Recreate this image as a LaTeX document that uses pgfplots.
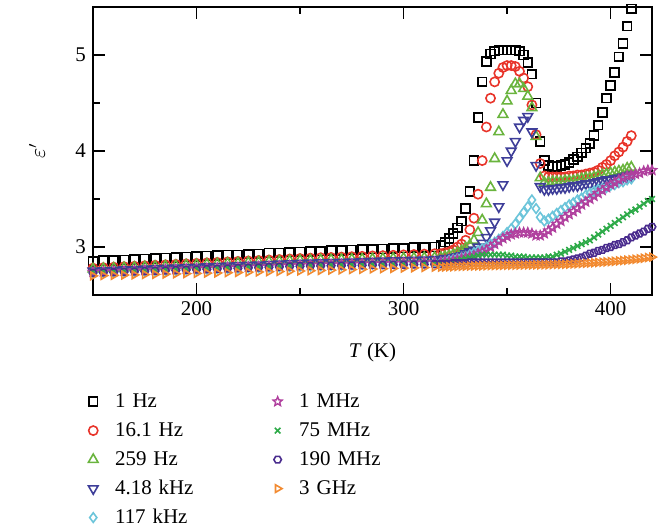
\documentclass[border=0pt]{standalone}
\usepackage{fontspec}
\setmainfont{Liberation Serif}
\usepackage{pgfplots}
\pgfplotsset{compat=1.18}
\usepackage{pgfplotstable}

\definecolor{cRed}{HTML}{E8342A}
\definecolor{cGreen}{HTML}{6AB43E}
\definecolor{cNavy}{HTML}{3E3E99}
\definecolor{cCyan}{HTML}{6CC5DA}
\definecolor{cMag}{HTML}{B0409E}
\definecolor{cGreenX}{HTML}{2DAA48}
\definecolor{cPurple}{HTML}{4A2C8E}
\definecolor{cOrange}{HTML}{F28A30}

% open five-pointed star and hexagon marks
\pgfdeclareplotmark{pstar}{%
  \pgfpathmoveto{\pgfpointpolar{90}{\pgfplotmarksize}}%
  \pgfpathlineto{\pgfpointpolar{126}{0.45\pgfplotmarksize}}%
  \pgfpathlineto{\pgfpointpolar{162}{\pgfplotmarksize}}%
  \pgfpathlineto{\pgfpointpolar{198}{0.45\pgfplotmarksize}}%
  \pgfpathlineto{\pgfpointpolar{234}{\pgfplotmarksize}}%
  \pgfpathlineto{\pgfpointpolar{270}{0.45\pgfplotmarksize}}%
  \pgfpathlineto{\pgfpointpolar{306}{\pgfplotmarksize}}%
  \pgfpathlineto{\pgfpointpolar{342}{0.45\pgfplotmarksize}}%
  \pgfpathlineto{\pgfpointpolar{18}{\pgfplotmarksize}}%
  \pgfpathlineto{\pgfpointpolar{54}{0.45\pgfplotmarksize}}%
  \pgfpathclose\pgfusepathqstroke}
\pgfdeclareplotmark{hexa}{%
  \pgfpathmoveto{\pgfpointpolar{0}{\pgfplotmarksize}}%
  \pgfpathlineto{\pgfpointpolar{60}{\pgfplotmarksize}}%
  \pgfpathlineto{\pgfpointpolar{120}{\pgfplotmarksize}}%
  \pgfpathlineto{\pgfpointpolar{180}{\pgfplotmarksize}}%
  \pgfpathlineto{\pgfpointpolar{240}{\pgfplotmarksize}}%
  \pgfpathlineto{\pgfpointpolar{300}{\pgfplotmarksize}}%
  \pgfpathclose\pgfusepathqstroke}

\pgfplotsset{
  sA/.style={only marks, color=black, mark=square, mark size=2.2bp, mark options={line width=0.85bp}},
  sB/.style={only marks, color=cRed, mark=o, mark size=2.3bp, mark options={line width=0.8bp}},
  sC/.style={only marks, color=cGreen, mark=triangle, mark size=2.8bp, mark options={line width=0.8bp}},
  sD/.style={only marks, color=cNavy, mark=triangle, mark size=2.8bp, mark options={line width=0.8bp, rotate=180}},
  sE/.style={only marks, color=cCyan, mark=diamond, mark size=2.4bp, mark options={line width=0.8bp}},
  sF/.style={only marks, color=cMag, mark=pstar, mark size=2.4bp, mark options={line width=0.7bp}},
  sG/.style={only marks, color=cGreenX, mark=x, mark size=2.0bp, mark options={line width=0.8bp}},
  sH/.style={only marks, color=cPurple, mark=hexa, mark size=1.9bp, mark options={line width=0.8bp}},
  sI/.style={only marks, color=cOrange, mark=triangle, mark size=2.2bp, mark options={line width=0.8bp, rotate=-90}},
}

% permittivity vs temperature, one column per frequency
\pgfplotstableread{
T   s1    s2    s3    s4    s5    s6    s7    s8    s9
150 2.850 2.780 2.770 2.750 2.730 2.740 2.740 2.730 2.700
155 2.857 2.785 2.775 2.754 2.734 2.744 2.744 2.734 2.703
160 2.858 2.790 2.779 2.758 2.737 2.747 2.747 2.737 2.705
165 2.866 2.795 2.784 2.762 2.741 2.751 2.751 2.741 2.708
170 2.869 2.800 2.788 2.766 2.744 2.754 2.754 2.744 2.710
175 2.877 2.805 2.793 2.770 2.748 2.758 2.758 2.748 2.713
180 2.879 2.810 2.797 2.774 2.751 2.761 2.761 2.751 2.715
185 2.887 2.815 2.802 2.778 2.755 2.765 2.765 2.755 2.718
190 2.889 2.820 2.806 2.782 2.758 2.768 2.768 2.758 2.720
195 2.896 2.825 2.811 2.786 2.762 2.772 2.772 2.762 2.723
200 2.900 2.830 2.815 2.790 2.765 2.775 2.775 2.765 2.725
205 2.907 2.835 2.820 2.794 2.769 2.779 2.779 2.769 2.728
210 2.909 2.840 2.824 2.798 2.772 2.782 2.782 2.772 2.730
215 2.917 2.845 2.829 2.802 2.776 2.786 2.786 2.776 2.733
220 2.919 2.850 2.833 2.806 2.779 2.789 2.789 2.779 2.735
225 2.926 2.855 2.838 2.810 2.783 2.793 2.793 2.783 2.738
230 2.929 2.860 2.842 2.814 2.786 2.796 2.796 2.786 2.740
235 2.937 2.865 2.847 2.818 2.790 2.800 2.800 2.790 2.743
240 2.939 2.870 2.851 2.822 2.793 2.803 2.803 2.793 2.745
245 2.946 2.875 2.856 2.826 2.797 2.807 2.807 2.797 2.748
250 2.949 2.880 2.860 2.830 2.800 2.810 2.810 2.800 2.750
255 2.955 2.884 2.862 2.833 2.803 2.812 2.812 2.802 2.753
260 2.957 2.888 2.865 2.836 2.806 2.815 2.813 2.803 2.756
265 2.962 2.891 2.867 2.839 2.809 2.817 2.815 2.805 2.759
270 2.964 2.895 2.869 2.842 2.812 2.819 2.816 2.806 2.762
275 2.970 2.899 2.872 2.845 2.815 2.822 2.818 2.808 2.765
280 2.972 2.903 2.874 2.848 2.818 2.824 2.819 2.809 2.768
285 2.978 2.907 2.876 2.851 2.821 2.826 2.821 2.811 2.771
290 2.979 2.910 2.879 2.854 2.824 2.828 2.822 2.812 2.774
295 2.985 2.914 2.881 2.857 2.827 2.831 2.824 2.814 2.777
300 2.987 2.918 2.883 2.860 2.830 2.833 2.825 2.815 2.780
305 2.993 2.922 2.885 2.863 2.833 2.835 2.827 2.817 2.783
310 2.995 2.926 2.888 2.866 2.836 2.838 2.828 2.818 2.786
315 3.000 2.930 2.890 2.870 2.840 2.840 2.830 2.820 2.790
318 3.02  2.93  2.89  2.87  2.84  2.84  2.83  2.82  2.790
320 3.05  2.94  2.90  2.88  2.85  2.85  2.84  2.82  2.792
322 3.09  2.95  2.91  2.88  2.86  2.85  2.84  2.82  2.794
324 3.14  2.97  2.92  2.89  2.87  2.86  2.85  2.83  2.795
326 3.20  3.00  2.94  2.90  2.88  2.87  2.86  2.83  2.797
328 3.27  3.03  2.96  2.91  2.89  2.88  2.87  2.83  2.798
330 3.40  3.07  2.99  2.93  2.90  2.89  2.88  2.83  2.800
332 3.58  3.18  3.02  2.95  2.92  2.90  2.89  2.84  2.801
334 3.90  3.30  3.07  2.97  2.94  2.91  2.90  2.84  2.802
336 4.35  3.55  3.15  3.00  2.96  2.93  2.91  2.84  2.803
338 4.72  3.90  3.28  3.04  2.98  2.95  2.92  2.84  2.804
340 4.93  4.25  3.45  3.10  3.00  2.97  2.92  2.84  2.805
342 5.01  4.55  3.62  3.17  3.03  3.00  2.92  2.84  2.806
344 5.04  4.72  3.92  3.26  3.05  3.03  2.92  2.84  2.807
346 5.05  4.81  4.20  3.42  3.08  3.06  2.92  2.84  2.808
348 5.05  4.87  4.38  3.65  3.11  3.09  2.92  2.84  2.809
350 5.05  4.89  4.52  3.90  3.15  3.11  2.91  2.84  2.810
352 5.05  4.89  4.63  4.00  3.19  3.13  2.91  2.84  2.811
354 5.05  4.88  4.70  4.10  3.24  3.14  2.90  2.84  2.811
356 5.04  4.83  4.70  4.25  3.30  3.15  2.90  2.84  2.812
358 5.00  4.76  4.65  4.32  3.36  3.15  2.90  2.84  2.812
360 4.92  4.67  4.57  4.36  3.42  3.15  2.89  2.84  2.813
362 4.80  4.48  4.45  4.20  3.49  3.14  2.89  2.84  2.813
364 4.50  4.17  4.15  3.85  3.40  3.12  2.89  2.84  2.814
366 4.10  3.87  3.72  3.63  3.31  3.12  2.89  2.84  2.814
368 3.90  3.74  3.67  3.60  3.27  3.14  2.89  2.84  2.815
370 3.85  3.73  3.67  3.60  3.29  3.17  2.90  2.84  2.816
372 3.84  3.73  3.68  3.61  3.32  3.20  2.90  2.84  2.817
374 3.84  3.73  3.68  3.61  3.35  3.24  2.92  2.84  2.818
376 3.85  3.73  3.68  3.62  3.38  3.27  2.93  2.85  2.819
378 3.86  3.73  3.69  3.62  3.41  3.31  2.95  2.85  2.820
380 3.88  3.74  3.69  3.63  3.44  3.34  2.97  2.86  2.822
382 3.91  3.74  3.69  3.64  3.46  3.37  2.99  2.87  2.824
384 3.94  3.75  3.70  3.64  3.49  3.40  3.01  2.88  2.826
386 3.98  3.75  3.71  3.65  3.51  3.44  3.03  2.89  2.828
388 4.03  3.76  3.72  3.66  3.54  3.47  3.05  2.91  2.830
390 4.08  3.77  3.72  3.66  3.56  3.50  3.07  2.93  2.833
392 4.16  3.78  3.73  3.67  3.58  3.53  3.10  2.94  2.836
394 4.27  3.80  3.74  3.68  3.60  3.56  3.13  2.96  2.839
396 4.40  3.83  3.75  3.69  3.61  3.59  3.16  2.97  2.842
398 4.55  3.86  3.76  3.70  3.62  3.62  3.19  2.99  2.845
400 4.68  3.90  3.77  3.70  3.64  3.65  3.22  3.00  2.848
402 4.82  3.95  3.78  3.71  3.65  3.67  3.25  3.02  2.851
404 4.98  3.99  3.79  3.72  3.67  3.70  3.28  3.03  2.855
406 5.12  4.04  3.80  3.73  3.68  3.72  3.31  3.05  2.859
408 5.30  4.10  3.82  3.74  3.70  3.74  3.34  3.07  2.863
410 5.48  4.16  3.83  3.75  3.71  3.75  3.37  3.10  2.867
412 5.62  nan   nan   nan   nan   3.76  3.39  3.12  2.872
414 nan   nan   nan   nan   nan   3.77  3.42  3.14  2.877
416 nan   nan   nan   nan   nan   3.79  3.45  3.16  2.883
418 nan   nan   nan   nan   nan   3.80  3.48  3.19  2.890
420 nan   nan   nan   nan   nan   3.80  3.50  3.21  2.895
}\epsdata

\begin{document}
\begin{tikzpicture}
\useasboundingbox (-46.5bp,-117bp) rectangle (283bp,147.5bp);
\begin{axis}[
    scale only axis,
    width=279.5bp, height=144bp,
    xmin=150, xmax=420,
    ymin=2.5, ymax=5.5,
    xtick={200,300,400},
    ytick={3,4,5},
    minor x tick num=1,
    minor y tick num=1,
    major tick length=6bp,
    minor tick length=3.5bp,
    axis line style={line width=1bp},
    every tick/.style={black, line width=0.9bp},
    tick label style={font=\fontsize{10.5}{12}\selectfont},
    label style={font=\fontsize{10.5}{12}\selectfont},
    /pgf/number format/assume math mode=true,
    xlabel={\textit{T} (K)},
    ylabel={$\varepsilon'$},
    xlabel style={at={(axis description cs:0.5,0)}, anchor=center, yshift=-28.5bp},
    ylabel style={at={(axis description cs:0,0.5)}, anchor=center, yshift=28bp},
    legend image code/.code={\draw[#1] plot coordinates {(0bp,2.7bp)};},
    legend style={
        draw=none, fill=none, legend columns=2,
        at={(axis description cs:0,0)}, anchor=north west,
        xshift=-2.3bp, yshift=-48bp,
        inner sep=0pt, outer sep=0pt,
        font=\fontsize{10.5}{12}\selectfont,
        nodes={inner sep=0pt, text height=8bp, text depth=2.5bp, anchor=base west, text width=68bp},
        row sep=4bp,
        % odd columns hold the marks, even columns the texts
        /tikz/every odd column/.append style={column sep=8.5bp},
        /tikz/every even column/.append style={column sep=11bp},
    },
]
\addplot[sA, forget plot] table[x=T, y=s1] {\epsdata};
\addplot[sB, forget plot] table[x=T, y=s2] {\epsdata};
\addplot[sC, forget plot] table[x=T, y=s3] {\epsdata};
\addplot[sD, forget plot] table[x=T, y=s4] {\epsdata};
\addplot[sE, forget plot] table[x=T, y=s5] {\epsdata};
\addplot[sF, forget plot] table[x=T, y=s6] {\epsdata};
\addplot[sG, forget plot] table[x=T, y=s7] {\epsdata};
\addplot[sH, forget plot] table[x=T, y=s8] {\epsdata};
\addplot[sI, forget plot] table[x=T, y=s9] {\epsdata};

% legend filled row by row so the columns read as in the figure
\addlegendimage{sA}\addlegendentry{1 Hz}
\addlegendimage{sF}\addlegendentry{1 MHz}
\addlegendimage{sB}\addlegendentry{16.1 Hz}
\addlegendimage{sG}\addlegendentry{75 MHz}
\addlegendimage{sC}\addlegendentry{259 Hz}
\addlegendimage{sH}\addlegendentry{190 MHz}
\addlegendimage{sD}\addlegendentry{4.18 kHz}
\addlegendimage{sI}\addlegendentry{3 GHz}
\addlegendimage{sE}\addlegendentry{117 kHz}
\end{axis}
\end{tikzpicture}
\end{document}
